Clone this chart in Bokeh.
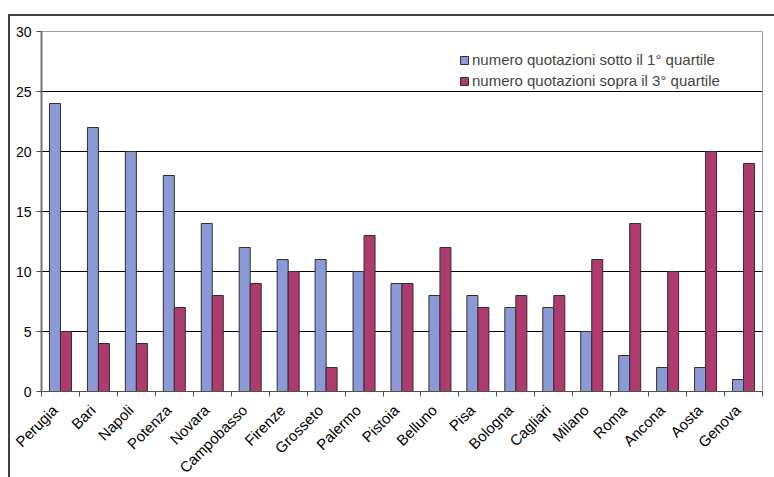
from bokeh.plotting import figure
from bokeh.models import ColumnDataSource, FixedTicker, Legend, LegendItem, Range1d
from bokeh.embed import file_html
from bokeh.resources import INLINE
import math

cities = ["Perugia", "Bari", "Napoli", "Potenza", "Novara", "Campobasso", "Firenze", "Grosseto",
          "Palermo", "Pistoia", "Belluno", "Pisa", "Bologna", "Cagliari", "Milano", "Roma",
          "Ancona", "Aosta", "Genova"]
sotto = [24, 22, 20, 18, 14, 12, 11, 11, 10, 9, 8, 8, 7, 7, 5, 3, 2, 2, 1]
sopra = [5, 4, 4, 7, 8, 9, 10, 2, 13, 9, 12, 7, 8, 8, 11, 14, 10, 20, 19]
y_ticks = [0, 5, 10, 15, 20, 25, 30]
label_sotto = "numero quotazioni sotto il 1° quartile"
label_sopra = "numero quotazioni sopra il 3° quartile"

n = len(cities)
centers = [i + 0.5 for i in range(n)]
bw = 0.29
src = ColumnDataSource(dict(
    xb=[c - bw / 2 for c in centers],
    xr=[c + bw / 2 for c in centers],
    sotto=sotto, sopra=sopra))

p = figure(frame_width=721, frame_height=360, output_backend="svg", toolbar_location=None,
           x_range=Range1d(0, n), y_range=Range1d(0, 30),
           min_border_left=31, min_border_right=12, min_border_top=15, min_border_bottom=86)
p.styles = {"margin-left": "8px", "margin-top": "14px",
            "border-left": "2px solid #404040", "border-top": "2px solid #404040"}
p.background_fill_color = "white"
p.border_fill_color = "white"
p.outline_line_color = "#a0a0a0"
p.outline_line_width = 1

FONT = "Liberation Sans"

rb = p.vbar(x="xb", top="sotto", width=bw, source=src, fill_color="#8B9AD6",
            line_color="#303030", line_width=1)
rr = p.vbar(x="xr", top="sopra", width=bw, source=src, fill_color="#AF3A6D",
            line_color="#303030", line_width=1)

# y axis
p.yaxis.ticker = FixedTicker(ticks=y_ticks)
p.yaxis.axis_line_color = "#707070"
p.yaxis.axis_line_width = 2
p.yaxis.major_tick_out = 5
p.yaxis.major_tick_in = 0
p.yaxis.major_tick_line_color = "#505050"
p.yaxis.minor_tick_line_color = None
p.yaxis.major_label_text_font = FONT
p.yaxis.major_label_text_font_size = "14px"
p.yaxis.major_label_text_color = "black"
p.yaxis.major_label_standoff = 5

# x axis: labels near centers, ticks at boundaries
label_pos = [c - 0.15 for c in centers]
p.xaxis.ticker = FixedTicker(ticks=label_pos, minor_ticks=list(range(n + 1)))
p.xaxis.major_label_overrides = {lp: name for lp, name in zip(label_pos, cities)}
p.xaxis.major_tick_out = 0
p.xaxis.major_tick_in = 0
p.xaxis.minor_tick_out = 5
p.xaxis.minor_tick_in = 0
p.xaxis.minor_tick_line_color = "#505050"
p.xaxis.axis_line_color = "#505050"
p.xaxis.axis_line_width = 1
p.xaxis.major_label_orientation = math.pi / 4
p.xaxis.major_label_text_font = FONT
p.xaxis.major_label_text_font_size = "15px"
p.xaxis.major_label_text_color = "black"
p.xaxis.major_label_standoff = 11

p.xgrid.grid_line_color = None
p.ygrid.ticker = FixedTicker(ticks=[5, 10, 15, 20, 25])
p.ygrid.grid_line_color = "black"
p.ygrid.grid_line_width = 1

legend = Legend(items=[LegendItem(label=label_sotto, renderers=[rb]),
                       LegendItem(label=label_sopra, renderers=[rr])],
                location=(418, 300), padding=0, margin=0, spacing=0,
                glyph_width=10, glyph_height=10, label_height=21, label_standoff=3,
                label_text_font=FONT, label_text_font_size="15px",
                border_line_color=None, background_fill_alpha=0)
p.add_layout(legend)

html = file_html(p, INLINE)
html = html.replace("<head>", "<head><style>html, body { overflow: hidden; margin: 0; }</style>", 1)
open("out.html", "w").write(html)
